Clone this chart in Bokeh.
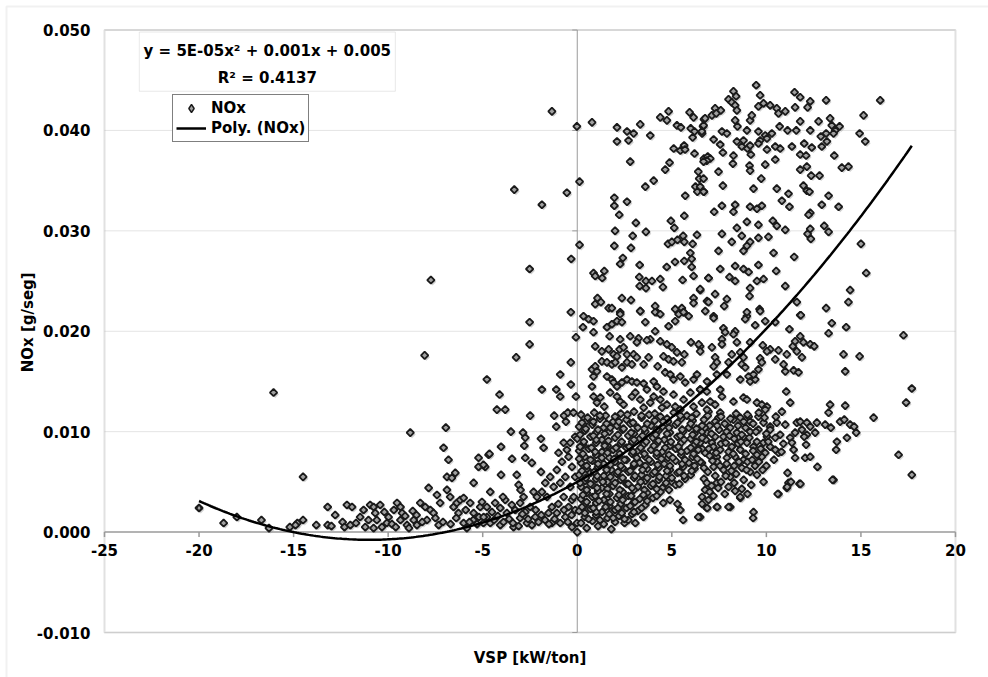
import numpy as np
from bokeh.plotting import figure
from bokeh.models import Range1d, Legend, LegendItem, Label, BoxAnnotation, ColumnDataSource
from bokeh.embed import file_html
from bokeh.resources import INLINE

# ---------------- data ----------------
x_ticks = [-25, -20, -15, -10, -5, 0, 5, 10, 15, 20]
y_ticks = [-0.010, 0.000, 0.010, 0.020, 0.030, 0.040, 0.050]

# trendline coefficients (second order polynomial)
trend_a = 4.768e-5
trend_b = 1.0487e-3
trend_c = 5.0e-3

low_left_pts = [
    (-20.0, 0.0024), (-18.7, 0.0009), (-18.0, 0.0015), (-16.7, 0.0012), (-16.3, 0.0004),
    (-16.06, 0.0139), (-15.2, 0.0005), (-14.8, 0.0009), (-14.5, 0.0012), (-14.9, 0.0007),
    (-14.5, 0.0055), (-13.8, 0.0007), (-13.2, 0.0025), (-13.2, 0.0007), (-13.0, 0.0006),
    (-12.8, 0.0017), (-12.41, 0.0010), (-12.31, 0.0005), (-12.0, 0.0007), (-12.18, 0.0027),
    (-11.91, 0.0025), (-11.48, 0.0015), (-11.21, 0.0005), (-10.95, 0.0027), (-10.77, 0.0025),
    (-10.68, 0.0019), (-10.60, 0.0012), (-10.42, 0.0027), (-10.33, 0.0005), (-10.07, 0.0009),
    (-9.98, 0.0015), (-11.04, 0.0012), (-10.77, 0.0004), (-9.7, 0.0022), (-9.53, 0.0029),
    (-9.35, 0.0025), (-9.26, 0.0019), (-9.35, 0.0012), (-9.0, 0.0007), (-8.83, 0.0099),
    (-8.65, 0.0012), (-8.48, 0.0007), (-8.30, 0.0029), (-8.04, 0.0025), (-7.86, 0.0044),
    (-7.77, 0.0022), (-7.95, 0.0012), (-7.60, 0.0019), (-7.42, 0.0037), (-7.33, 0.0007),
    (-7.25, 0.0029), (-7.07, 0.0084), (-6.95, 0.0104), (-6.81, 0.0072), (-6.89, 0.0055),
    (-6.63, 0.0054), (-6.45, 0.0059), (-6.89, 0.0042), (-6.72, 0.0035), (-6.54, 0.0025),
    (-6.37, 0.0029), (-6.19, 0.0032), (-6.01, 0.0034), (-6.28, 0.0019), (-6.01, 0.0009),
    (-5.84, 0.0004), (-5.66, 0.0029), (-5.48, 0.0049), (-5.48, 0.0019), (-5.22, 0.0074),
    (-5.22, 0.0065), (-4.87, 0.0065), (-4.78, 0.0152), (-4.69, 0.0077), (-5.13, 0.0025),
    (-4.96, 0.0009), (-4.78, 0.0015), (-7.74, 0.0251), (-8.07, 0.0176), (-5.5, 0.0012),
    (-5.3, 0.0008), (-9.8, 0.0008), (-9.1, 0.0016), (-8.7, 0.0021), (-8.9, 0.0004),
    (-8.2, 0.0010), (-8.5, 0.0017), (-7.5, 0.0014), (-7.1, 0.0010), (-6.7, 0.0008),
    (-6.4, 0.0014), (-5.9, 0.0022), (-5.7, 0.0010), (-5.2, 0.0015), (-11.7, 0.0009),
    (-11.3, 0.0022), (-10.2, 0.0020), (-9.6, 0.0005),
]

near_zero_pts = [
    (-5.04, 0.0030), (-4.78, 0.0025), (-4.51, 0.0020), (-4.34, 0.0029), (-4.07, 0.0024),
    (-3.81, 0.0032), (-3.72, 0.0019), (-3.46, 0.0027), (-3.28, 0.0022), (-3.02, 0.0029),
    (-2.75, 0.0020), (-2.49, 0.0025), (-2.22, 0.0015), (-2.05, 0.0010), (-3.37, 0.0005),
    (-4.07, 0.0007), (-4.6, 0.0009), (-4.95, 0.0015), (-2.66, 0.0009), (-3.02, 0.0014),
    (-1.60, 0.0035), (-1.34, 0.0025), (-1.08, 0.0019), (-0.90, 0.0009), (-0.63, 0.0015),
    (-0.46, 0.0025), (-0.28, 0.0032), (-0.72, 0.0035), (-1.25, 0.0045), (-1.43, 0.0055),
    (-1.08, 0.0062), (-0.81, 0.0070), (-0.55, 0.0082), (-0.63, 0.0055), (-0.37, 0.0045),
    (-0.19, 0.0035), (-0.11, 0.0022), (-0.02, 0.0009), (-0.28, 0.0005), (-1.34, 0.0009),
    (-1.87, 0.0040), (-1.69, 0.0049), (-0.90, 0.0049), (-2.13, 0.0035), (-2.31, 0.0040),
    (-2.84, 0.0035), (-1.52, 0.0019), (-0.46, 0.0075), (-0.28, 0.0065), (-0.11, 0.0055),
    (-0.11, 0.0095), (-0.37, 0.0089), (-0.72, 0.0089), (-0.99, 0.0079), (-4.4, 0.0012),
    (-4.2, 0.0016), (-3.9, 0.0010), (-3.6, 0.0013), (-3.4, 0.0009), (-3.1, 0.0006),
    (-2.9, 0.0018), (-2.6, 0.0013), (-2.4, 0.0007), (-2.2, 0.0022), (-1.9, 0.0017),
    (-1.7, 0.0012), (-1.5, 0.0008), (-1.2, 0.0013), (-1.0, 0.0028), (-0.7, 0.0022),
    (-0.5, 0.0010), (-0.3, 0.0017),
]

mid_left_pts = [
    (-2.52, 0.0209), (-2.52, 0.0187), (-3.23, 0.0174), (-4.11, 0.0137), (-4.25, 0.0122),
    (-3.81, 0.0122), (-2.49, 0.0116), (-1.87, 0.0142), (-0.90, 0.0157), (-1.11, 0.0142),
    (-0.90, 0.0135), (-0.34, 0.0169), (-0.34, 0.0147), (-0.07, 0.0135), (-0.07, 0.0194),
    (-0.34, 0.0219), (-1.22, 0.0116), (-1.11, 0.0105), (-0.7, 0.0116), (-0.5, 0.0119),
    (-0.2, 0.0119), (-0.6, 0.0110), (-3.51, 0.0100), (-2.87, 0.0099), (-2.75, 0.0094),
    (-2.80, 0.0086), (-1.92, 0.0093), (-1.78, 0.0084), (-4.03, 0.0085), (-4.64, 0.0078),
    (-4.96, 0.0067), (-3.45, 0.0073), (-2.75, 0.0074), (-2.40, 0.0069), (-4.03, 0.0057),
    (-3.2, 0.0057), (-3.1, 0.0047), (-3.0, 0.0042), (-1.92, 0.0060), (-4.60, 0.0040),
    (-3.93, 0.0035),
]

upper_mid_pts = [
    (-1.34, 0.0419), (-0.02, 0.0404), (0.78, 0.0408), (2.10, 0.0403), (2.63, 0.0399),
    (2.98, 0.0397), (2.71, 0.0390), (2.10, 0.0389), (3.33, 0.0406), (3.86, 0.0395),
    (4.39, 0.0413), (4.74, 0.0410), (4.83, 0.0419), (5.27, 0.0405), (5.48, 0.0403),
    (5.94, 0.0418), (6.15, 0.0413), (6.0, 0.0402), (6.2, 0.0399), (6.1, 0.0393),
    (6.6, 0.0397), (6.7, 0.0411), (6.65, 0.0404), (5.1, 0.0382), (5.45, 0.0380),
    (5.65, 0.0385), (5.7, 0.0381), (6.2, 0.0377), (6.7, 0.0372), (6.9, 0.0374),
    (2.80, 0.0369), (4.88, 0.0368), (4.65, 0.0361), (4.04, 0.0350), (3.6, 0.0344),
    (6.4, 0.0359), (6.45, 0.0352), (6.25, 0.0344), (6.5, 0.0342), (6.35, 0.0339),
    (6.7, 0.0339), (5.71, 0.0335), (5.66, 0.0315), (-3.33, 0.0341), (-1.87, 0.0326),
    (-0.55, 0.0338), (0.12, 0.0349), (1.96, 0.0333), (1.96, 0.0325), (2.63, 0.0329),
    (2.22, 0.0316), (3.10, 0.0308), (2.0, 0.0300), (3.63, 0.0299), (2.93, 0.0295),
    (1.96, 0.0285), (2.84, 0.0283), (0.12, 0.0286), (-0.32, 0.0272), (-2.52, 0.0262),
    (2.41, 0.0273), (2.27, 0.0267), (3.30, 0.0266), (4.95, 0.0310), (5.13, 0.0303),
    (4.8, 0.0287), (5.0, 0.0289), (5.3, 0.0291), (5.6, 0.0295), (5.66, 0.0289),
    (6.1, 0.0287), (6.33, 0.0296), (5.98, 0.0278), (6.05, 0.0272), (6.05, 0.0264),
    (5.66, 0.0270), (5.17, 0.0269), (4.73, 0.0264), (0.86, 0.0258), (0.95, 0.0255),
    (1.43, 0.0260), (1.32, 0.0253), (3.28, 0.0254), (3.63, 0.0250), (3.95, 0.0250),
    (3.30, 0.0245), (3.63, 0.0243), (4.39, 0.0252), (4.53, 0.0244), (5.57, 0.0251),
    (6.15, 0.0255), (6.94, 0.0253), (6.5, 0.0241), (1.07, 0.0233), (0.95, 0.0227),
    (1.25, 0.0229), (1.66, 0.0223), (1.83, 0.0223), (2.36, 0.0233), (2.84, 0.0231),
    (2.27, 0.0219), (3.33, 0.0220), (4.12, 0.0225), (4.21, 0.0219), (5.18, 0.0222),
    (5.53, 0.0223), (5.62, 0.0219), (6.15, 0.0233), (6.15, 0.0228), (6.86, 0.0230),
    (6.77, 0.0220),
]

upper_right_pts = [
    (9.46, 0.0445), (8.26, 0.0439), (8.40, 0.0434), (8.0, 0.0431), (8.17, 0.0428),
    (8.35, 0.0425), (8.44, 0.0420), (9.67, 0.0435), (9.85, 0.0427), (9.58, 0.0424),
    (10.2, 0.0425), (10.55, 0.0422), (10.64, 0.0417), (11.0, 0.0419), (11.49, 0.0438),
    (11.79, 0.0433), (11.52, 0.0423), (12.18, 0.0423), (12.32, 0.0429), (13.16, 0.0430),
    (16.02, 0.0430), (15.14, 0.0415), (7.29, 0.0422), (7.59, 0.0420), (7.12, 0.0415),
    (6.76, 0.0412), (6.68, 0.0405), (6.59, 0.0399), (7.35, 0.0417), (8.35, 0.0410),
    (8.47, 0.0404), (9.14, 0.0410), (8.97, 0.0400), (9.23, 0.0415), (7.65, 0.0399),
    (7.91, 0.0397), (7.21, 0.0391), (7.56, 0.0386), (7.70, 0.0378), (8.44, 0.0389),
    (8.79, 0.0390), (8.70, 0.0384), (9.0, 0.0382), (9.58, 0.0399), (9.94, 0.0395),
    (9.67, 0.0390), (10.03, 0.0392), (10.29, 0.0397), (10.70, 0.0404), (11.12, 0.0400),
    (11.58, 0.0400), (11.79, 0.0409), (12.32, 0.0400), (12.76, 0.0409), (12.88, 0.0394),
    (13.16, 0.0397), (13.37, 0.0412), (13.46, 0.0405), (13.64, 0.0400), (13.55, 0.0397),
    (13.87, 0.0404), (13.2, 0.0389), (12.93, 0.0384), (12.4, 0.0383), (12.0, 0.0387),
    (11.35, 0.0384), (10.73, 0.0382), (10.47, 0.0384), (10.03, 0.0381), (9.58, 0.0387),
    (9.14, 0.0385), (14.93, 0.0397), (15.23, 0.0389), (7.03, 0.0372), (6.85, 0.0370),
    (6.68, 0.0369), (8.26, 0.0375), (8.23, 0.0367), (9.18, 0.0376), (9.11, 0.0365),
    (9.14, 0.0360), (7.47, 0.0359), (6.68, 0.0352), (6.5, 0.0344), (6.68, 0.0339),
    (7.70, 0.0345), (9.73, 0.0352), (9.94, 0.0366), (10.47, 0.0371), (11.79, 0.0376),
    (12.1, 0.0375), (11.79, 0.0361), (12.14, 0.0364), (12.37, 0.0355), (12.81, 0.0355),
    (13.59, 0.0375), (13.99, 0.0363), (14.34, 0.0364), (11.96, 0.0345), (12.14, 0.0340),
    (12.28, 0.0339), (10.55, 0.0342), (11.17, 0.0337), (10.82, 0.0330), (11.22, 0.0324),
    (9.32, 0.0342), (13.29, 0.0335), (12.93, 0.0326), (13.82, 0.0324), (7.24, 0.0319),
    (7.65, 0.0325), (8.35, 0.0326), (8.26, 0.0319), (9.14, 0.0324), (9.50, 0.0322),
    (9.76, 0.0325), (8.97, 0.0309), (9.58, 0.0306), (10.34, 0.0310), (10.55, 0.0305),
    (11.0, 0.0301), (12.32, 0.0318), (12.23, 0.0316), (13.06, 0.0305), (13.29, 0.0299),
    (12.18, 0.0297), (12.35, 0.0292), (12.32, 0.0302), (8.44, 0.0303), (8.70, 0.0295),
    (7.65, 0.0297), (8.17, 0.0289), (9.14, 0.0289), (8.97, 0.0285), (8.79, 0.0280),
    (9.58, 0.0293), (10.11, 0.0294), (10.38, 0.0278), (11.47, 0.0274), (15.0, 0.0287),
    (15.28, 0.0258), (14.43, 0.0241), (14.34, 0.0229), (13.16, 0.0223), (11.61, 0.0229),
    (11.79, 0.0216), (9.64, 0.0222), (8.97, 0.0215), (7.47, 0.0280), (7.56, 0.0262),
    (6.94, 0.0253), (6.5, 0.0242), (7.29, 0.0237), (6.94, 0.0229), (7.91, 0.0232),
    (7.77, 0.0225), (8.35, 0.0265), (8.79, 0.0262), (9.06, 0.0259), (9.58, 0.0266),
    (9.85, 0.0252), (9.50, 0.0250), (8.35, 0.0250), (8.05, 0.0254), (9.14, 0.0243),
    (9.11, 0.0235), (10.52, 0.0260), (11.0, 0.0245), (7.21, 0.0215),
]

mid_right_pts = [
    (7.21, 0.0213), (7.73, 0.0203), (7.82, 0.0199), (8.35, 0.0200), (8.26, 0.0197),
    (8.88, 0.0212), (8.97, 0.0219), (9.41, 0.0206), (9.67, 0.0220), (9.94, 0.0210),
    (10.47, 0.0209), (11.22, 0.0202), (11.82, 0.0216), (13.46, 0.0208), (13.29, 0.0198),
    (14.22, 0.0204), (17.25, 0.0196), (6.5, 0.0185), (7.12, 0.0184), (7.65, 0.0192),
    (7.65, 0.0187), (8.44, 0.0189), (8.17, 0.0177), (8.62, 0.0179), (9.14, 0.0189),
    (9.81, 0.0186), (10.2, 0.0182), (10.03, 0.0180), (10.64, 0.0181), (11.08, 0.0177),
    (11.4, 0.0185), (11.52, 0.0190), (11.79, 0.0195), (11.61, 0.0180), (11.96, 0.0189),
    (12.32, 0.0187), (12.53, 0.0185), (11.88, 0.0174), (7.29, 0.0174), (7.38, 0.0169),
    (7.21, 0.0165), (8.0, 0.0169), (8.79, 0.0174), (8.70, 0.0167), (8.88, 0.0164),
    (9.67, 0.0173), (9.76, 0.0169), (9.58, 0.0162), (10.47, 0.0172), (10.91, 0.0167),
    (11.0, 0.0160), (11.44, 0.0161), (11.7, 0.0159), (14.08, 0.0177), (14.93, 0.0175),
    (14.17, 0.0160), (7.38, 0.0157), (7.91, 0.0157), (8.62, 0.0152), (9.06, 0.0155),
    (9.14, 0.0150), (9.41, 0.0152), (9.32, 0.0157), (6.5, 0.0142), (6.85, 0.0140),
    (7.56, 0.0142), (7.65, 0.0135), (11.05, 0.0140), (11.26, 0.0129), (17.69, 0.0143),
    (17.39, 0.0129), (15.67, 0.0114), (14.17, 0.0126), (13.37, 0.0127), (13.29, 0.0119),
]

band_right_pts = [
    (7.03, 0.0130), (7.29, 0.0127), (6.94, 0.0120), (7.56, 0.0119), (7.47, 0.0114),
    (8.26, 0.0130), (8.79, 0.0134), (8.97, 0.0132), (9.50, 0.0129), (9.76, 0.0127),
    (10.03, 0.0125), (9.94, 0.0122), (10.82, 0.0120), (9.58, 0.0115), (8.26, 0.0112),
    (8.62, 0.0114), (9.06, 0.0115), (9.14, 0.0110), (9.85, 0.0109), (10.2, 0.0105),
    (10.55, 0.0109), (11.0, 0.0107), (11.61, 0.0109), (11.79, 0.0110), (12.14, 0.0109),
    (12.32, 0.0105), (12.67, 0.0109), (13.11, 0.0107), (13.41, 0.0104), (13.9, 0.0110),
    (14.12, 0.0112), (14.43, 0.0107), (14.64, 0.0105), (14.75, 0.0099), (14.26, 0.0094),
    (13.73, 0.0090), (13.69, 0.0082), (11.88, 0.0102), (12.14, 0.0097), (12.58, 0.0099),
    (12.0, 0.0095), (11.52, 0.0099), (11.26, 0.0094), (11.35, 0.0089), (11.44, 0.0082),
    (11.52, 0.0074), (12.05, 0.0074), (12.32, 0.0075), (12.1, 0.0087), (10.73, 0.0097),
    (10.47, 0.0094), (10.03, 0.0095), (9.58, 0.0102), (9.14, 0.0100), (8.79, 0.0095),
    (8.44, 0.0099), (8.09, 0.0104), (7.73, 0.0095), (7.29, 0.0095), (6.85, 0.0099),
    (6.5, 0.0089), (7.12, 0.0089), (7.56, 0.0082), (8.17, 0.0085), (8.62, 0.0082),
    (8.97, 0.0089), (9.32, 0.0085), (9.85, 0.0089), (10.2, 0.0085), (9.94, 0.0079),
    (9.76, 0.0075), (10.64, 0.0079), (10.47, 0.0082), (8.35, 0.0075), (8.79, 0.0072),
    (7.91, 0.0074), (7.38, 0.0075), (6.76, 0.0079), (6.59, 0.0069), (7.21, 0.0065),
    (7.73, 0.0062), (8.09, 0.0055), (9.14, 0.0060), (9.50, 0.0057), (9.85, 0.0050),
    (10.64, 0.0038), (11.12, 0.0059), (11.17, 0.0049), (11.08, 0.0044), (11.75, 0.0048),
    (12.7, 0.0065), (13.55, 0.0052), (16.99, 0.0077), (17.69, 0.0057), (8.62, 0.0034),
    (9.32, 0.0020), (8.09, 0.0025), (7.38, 0.0025), (6.85, 0.0024), (6.5, 0.0015),
    (6.94, 0.0032), (7.38, 0.0049), (6.76, 0.0042), (6.7, 0.0112), (7.0, 0.0106),
    (7.3, 0.0110), (7.8, 0.0108), (8.1, 0.0113), (8.5, 0.0106), (8.9, 0.0104),
    (9.3, 0.0108), (6.6, 0.0100), (7.1, 0.0098), (7.5, 0.0102), (7.9, 0.0100),
    (8.3, 0.0093), (8.7, 0.0097), (9.1, 0.0094), (9.5, 0.0090), (6.8, 0.0092),
    (7.2, 0.0085), (7.6, 0.0088), (8.0, 0.0080), (8.5, 0.0088), (8.9, 0.0078),
    (9.3, 0.0081), (9.7, 0.0083), (6.6, 0.0083), (7.0, 0.0076), (7.4, 0.0070),
    (7.9, 0.0068), (8.3, 0.0066), (8.7, 0.0064), (9.0, 0.0070), (9.4, 0.0066),
    (6.9, 0.0060), (7.3, 0.0056), (7.6, 0.0050), (8.0, 0.0045), (8.4, 0.0058),
    (8.8, 0.0052), (6.7, 0.0053), (7.1, 0.0046), (6.6, 0.0035), (7.0, 0.0040),
    (10.0, 0.0066), (10.4, 0.0072), (10.8, 0.0080), (10.2, 0.0102), (10.9, 0.0088),
    (9.9, 0.0114), (10.5, 0.0115), (9.6, 0.0070), (5.45, 0.0022), (5.6, 0.0012),
    (6.4, 0.0015), (6.87, 0.0024), (7.4, 0.0025), (8.0, 0.0025), (8.62, 0.0035),
    (9.3, 0.0014), (10.6, 0.0038), (11.1, 0.0045), (11.3, 0.0050), (11.8, 0.0048),
    (13.5, 0.0052), (4.55, 0.0029), (3.07, 0.0009), (2.5, 0.0009), (0.0, 0.0000),
    (6.9, 0.0116), (7.6, 0.0115), (8.4, 0.0118), (9.0, 0.0117), (9.6, 0.0119),
    (6.75, 0.0104), (7.4, 0.0106), (8.05, 0.0096), (8.8, 0.0110), (9.45, 0.0100),
    (10.0, 0.0098), (6.95, 0.0083), (7.35, 0.0079), (7.85, 0.0089), (8.25, 0.0078),
    (8.65, 0.0090), (9.5, 0.0077), (10.1, 0.0090), (6.7, 0.0064), (7.15, 0.0071),
    (7.55, 0.0066), (8.15, 0.0061), (8.55, 0.0070), (8.95, 0.0062), (9.25, 0.0072),
    (9.8, 0.0062), (6.85, 0.0049), (7.45, 0.0044), (7.85, 0.0056), (8.3, 0.0049),
    (8.7, 0.0043), (9.2, 0.0047), (6.6, 0.0028), (7.2, 0.0036), (7.8, 0.0038),
    (8.35, 0.0041), (9.0, 0.0038),
]

center_upper_pts = [
    (0.33, 0.0215), (0.6, 0.0212), (0.86, 0.0210), (0.30, 0.0204), (0.86, 0.0199),
    (1.57, 0.0204), (1.83, 0.0207), (2.10, 0.0210), (2.27, 0.0217), (2.36, 0.0209),
    (3.33, 0.0220), (3.60, 0.0209), (4.12, 0.0219), (4.39, 0.0217), (4.83, 0.0205),
    (5.18, 0.0210), (5.36, 0.0217), (5.62, 0.0219), (5.89, 0.0215), (4.12, 0.0200),
    (3.86, 0.0192), (4.39, 0.0190), (4.74, 0.0187), (5.0, 0.0184), (5.27, 0.0179),
    (6.01, 0.0189), (6.42, 0.0187), (6.5, 0.0180), (1.71, 0.0195), (2.27, 0.0192),
    (2.80, 0.0195), (3.24, 0.0193), (3.15, 0.0189), (3.68, 0.0191), (0.95, 0.0185),
    (1.30, 0.0180), (1.66, 0.0182), (1.92, 0.0177), (2.10, 0.0175), (2.24, 0.0182),
    (2.45, 0.0184), (2.63, 0.0177), (2.98, 0.0177), (3.15, 0.0174), (3.51, 0.0167),
    (3.77, 0.0174), (4.25, 0.0165), (4.56, 0.0175), (4.83, 0.0172), (5.09, 0.0170),
    (5.53, 0.0169), (5.66, 0.0177), (6.15, 0.0152), (6.33, 0.0157), (0.78, 0.0162),
    (0.95, 0.0165), (1.04, 0.0160), (0.86, 0.0155), (1.30, 0.0170), (1.57, 0.0169),
    (1.83, 0.0167), (2.01, 0.0169), (2.36, 0.0164), (2.63, 0.0169), (2.89, 0.0167),
    (1.57, 0.0155), (1.83, 0.0152), (1.92, 0.0149), (2.10, 0.0145), (2.36, 0.0149),
    (2.63, 0.0152), (2.89, 0.0150), (3.15, 0.0149), (3.51, 0.0148), (3.68, 0.0142),
    (4.04, 0.0150), (4.21, 0.0145), (4.65, 0.0159), (4.92, 0.0157), (5.09, 0.0152),
    (5.45, 0.0155), (5.71, 0.0149), (4.56, 0.0140), (5.09, 0.0137), (5.62, 0.0132),
    (5.98, 0.0139), (6.5, 0.0142), (6.86, 0.0150), (0.78, 0.0145), (0.86, 0.0135),
    (1.04, 0.0129), (1.22, 0.0134), (1.43, 0.0125), (1.74, 0.0139), (2.10, 0.0135),
    (2.27, 0.0130), (2.45, 0.0127), (2.89, 0.0135), (3.07, 0.0139), (3.33, 0.0132),
    (3.51, 0.0124), (3.86, 0.0129), (4.04, 0.0135), (4.39, 0.0132), (4.48, 0.0124),
    (4.74, 0.0127), (5.18, 0.0125), (5.45, 0.0122), (6.15, 0.0125), (6.59, 0.0129),
    (6.86, 0.0122),
]

center_dense_pts = [
    (0.2, 0.0117), (0.9, 0.0119), (1.5, 0.0116), (2.3, 0.0118), (3.0, 0.0120), (3.8, 0.0117),
    (4.4, 0.0115), (5.1, 0.0119), (5.8, 0.0116), (6.3, 0.0118),
    (0.5, 0.0111), (1.2, 0.0113), (1.9, 0.0110), (2.6, 0.0112), (3.4, 0.0114), (4.1, 0.0111),
    (4.8, 0.0110), (5.5, 0.0113), (6.1, 0.0111),
    (0.1, 0.0105), (0.8, 0.0107), (1.4, 0.0104), (2.1, 0.0106), (2.8, 0.0108), (3.2, 0.0104),
    (3.9, 0.0106), (4.5, 0.0105), (5.2, 0.0107), (5.9, 0.0104), (6.6, 0.0106),
    (0.4, 0.0101), (1.0, 0.0099), (1.7, 0.0100), (2.4, 0.0102), (3.0, 0.0098), (3.6, 0.0100),
    (4.3, 0.0101), (4.9, 0.0099), (5.6, 0.0100), (6.2, 0.0098),
    (0.0, 0.0093), (0.7, 0.0095), (1.3, 0.0092), (2.0, 0.0094), (2.7, 0.0096), (3.3, 0.0093),
    (4.0, 0.0094), (4.6, 0.0092), (5.3, 0.0095), (6.0, 0.0093), (6.6, 0.0094),
    (0.3, 0.0087), (1.0, 0.0089), (1.6, 0.0086), (2.3, 0.0088), (2.9, 0.0090), (3.5, 0.0087),
    (4.2, 0.0088), (4.9, 0.0086), (5.5, 0.0089), (6.2, 0.0087),
    (0.1, 0.0081), (0.6, 0.0083), (1.3, 0.0080), (1.9, 0.0082), (2.6, 0.0084), (3.2, 0.0081),
    (3.9, 0.0082), (4.5, 0.0080), (5.2, 0.0083), (5.8, 0.0081), (6.4, 0.0082),
    (0.4, 0.0075), (1.0, 0.0077), (1.7, 0.0074), (2.2, 0.0076), (2.9, 0.0078), (3.6, 0.0075),
    (4.2, 0.0076), (4.8, 0.0074), (5.5, 0.0077), (6.1, 0.0075),
    (0.2, 0.0069), (0.8, 0.0071), (1.4, 0.0068), (2.0, 0.0070), (2.6, 0.0072), (3.3, 0.0069),
    (3.9, 0.0070), (4.6, 0.0068), (5.2, 0.0071), (5.9, 0.0069), (6.5, 0.0070),
    (0.5, 0.0063), (1.1, 0.0065), (1.8, 0.0062), (2.4, 0.0064), (3.0, 0.0066), (3.7, 0.0063),
    (4.3, 0.0064), (4.9, 0.0062), (5.6, 0.0065), (6.2, 0.0063),
    (0.1, 0.0057), (0.7, 0.0059), (1.4, 0.0056), (2.1, 0.0058), (2.7, 0.0060), (3.4, 0.0057),
    (4.0, 0.0058), (4.7, 0.0056), (5.3, 0.0059), (6.0, 0.0057),
    (0.4, 0.0051), (1.0, 0.0053), (1.6, 0.0050), (2.3, 0.0052), (3.0, 0.0054), (3.6, 0.0051),
    (4.3, 0.0052), (5.0, 0.0050), (5.7, 0.0053),
    (0.2, 0.0045), (0.8, 0.0047), (1.3, 0.0044), (1.9, 0.0046), (2.6, 0.0048), (3.2, 0.0045),
    (3.9, 0.0046), (4.5, 0.0044), (5.2, 0.0047),
    (0.5, 0.0039), (1.1, 0.0041), (1.7, 0.0038), (2.4, 0.0040), (3.0, 0.0042), (3.7, 0.0039),
    (4.4, 0.0040),
    (0.2, 0.0033), (0.8, 0.0035), (1.4, 0.0032), (2.1, 0.0034), (2.7, 0.0036), (3.3, 0.0033),
    (4.0, 0.0034), (4.9, 0.0032),
    (0.4, 0.0027), (1.0, 0.0029), (1.7, 0.0026), (2.3, 0.0028), (3.0, 0.0030), (3.6, 0.0027),
    (5.3, 0.0028),
    (0.1, 0.0021), (0.7, 0.0023), (1.3, 0.0020), (2.0, 0.0022), (2.6, 0.0024), (3.2, 0.0021),
    (4.1, 0.0022),
    (0.4, 0.0015), (1.0, 0.0017), (1.6, 0.0014), (2.2, 0.0016), (2.9, 0.0018), (3.5, 0.0015),
    (0.2, 0.0009), (0.8, 0.0011), (1.4, 0.0008), (2.0, 0.0010), (2.7, 0.0012),
    (0.5, 0.0004), (1.1, 0.0006), (1.8, 0.0003),
    (0.55, 0.0114), (1.2, 0.0116), (2.0, 0.0115), (2.65, 0.0117), (3.4, 0.0116), (4.1, 0.0118),
    (4.75, 0.0113), (5.45, 0.0116), (6.05, 0.0114),
    (0.45, 0.0103), (1.1, 0.0102), (1.75, 0.0104), (2.45, 0.0103), (3.55, 0.0103),
    (4.2, 0.0102), (4.85, 0.0104), (5.55, 0.0102), (6.3, 0.0103),
    (0.35, 0.0090), (1.0, 0.0092), (1.65, 0.0091), (2.35, 0.0090), (3.0, 0.0092),
    (3.65, 0.0090), (4.3, 0.0091), (4.95, 0.0090), (5.65, 0.0092), (6.3, 0.0090),
    (0.3, 0.0078), (0.95, 0.0080), (1.6, 0.0079), (2.25, 0.0078), (2.95, 0.0080),
    (3.55, 0.0078), (4.2, 0.0079), (4.85, 0.0077), (5.5, 0.0080), (6.15, 0.0078),
    (0.5, 0.0066), (1.1, 0.0068), (1.75, 0.0067), (2.3, 0.0066), (3.0, 0.0068),
    (3.6, 0.0066), (4.25, 0.0067), (4.9, 0.0066), (5.55, 0.0068), (6.2, 0.0066),
    (0.45, 0.0054), (1.05, 0.0056), (1.75, 0.0055), (2.4, 0.0054), (3.05, 0.0056),
    (3.7, 0.0054), (4.35, 0.0055), (5.0, 0.0054), (5.65, 0.0056),
    (0.5, 0.0042), (1.05, 0.0044), (1.6, 0.0043), (2.25, 0.0042), (2.9, 0.0044),
    (3.55, 0.0042), (4.2, 0.0043), (4.85, 0.0042),
    (0.5, 0.0030), (1.15, 0.0031), (1.75, 0.0030), (2.4, 0.0032), (3.05, 0.0030),
    (3.7, 0.0031),
    (0.4, 0.0019), (1.0, 0.0020), (1.7, 0.0018), (2.35, 0.0019), (3.0, 0.0020),
    (0.25, 0.0109), (0.85, 0.0110), (1.55, 0.0108), (2.2, 0.0110), (2.95, 0.0109),
    (3.7, 0.0108), (4.55, 0.0110), (5.3, 0.0109), (6.0, 0.0108),
    (0.15, 0.0097), (0.85, 0.0096), (1.45, 0.0098), (2.15, 0.0097), (2.85, 0.0099),
    (3.45, 0.0096), (4.15, 0.0097), (4.75, 0.0098), (5.45, 0.0096), (6.1, 0.0097),
    (0.15, 0.0085), (0.75, 0.0084), (1.45, 0.0086), (2.05, 0.0084), (2.75, 0.0085),
    (3.35, 0.0084), (4.05, 0.0086), (4.65, 0.0084), (5.35, 0.0085), (6.0, 0.0084),
    (0.1, 0.0073), (0.7, 0.0072), (1.3, 0.0074), (1.95, 0.0073), (2.5, 0.0072),
    (3.15, 0.0074), (3.8, 0.0072), (4.45, 0.0073), (5.05, 0.0074), (5.7, 0.0072),
    (6.35, 0.0073),
    (0.25, 0.0061), (0.9, 0.0060), (1.55, 0.0062), (2.15, 0.0060), (2.8, 0.0061),
    (3.45, 0.0062), (4.1, 0.0060), (4.75, 0.0061), (5.4, 0.0060), (6.05, 0.0061),
    (0.15, 0.0049), (0.7, 0.0048), (1.35, 0.0050), (2.0, 0.0049), (2.7, 0.0048),
    (3.35, 0.0050), (4.0, 0.0048), (4.7, 0.0049), (5.4, 0.0048),
    (0.3, 0.0037), (0.95, 0.0036), (1.55, 0.0038), (2.2, 0.0037), (2.85, 0.0036),
    (3.5, 0.0037), (4.2, 0.0036),
    (0.25, 0.0025), (0.85, 0.0024), (1.5, 0.0025), (2.15, 0.0024), (2.8, 0.0026),
    (3.4, 0.0024),
    (0.6, 0.0013), (1.2, 0.0012), (1.9, 0.0014), (2.5, 0.0013),
]

all_pts = (low_left_pts + near_zero_pts + mid_left_pts + upper_mid_pts + upper_right_pts
           + mid_right_pts + band_right_pts + center_upper_pts + center_dense_pts)
vsp = np.array([pt[0] for pt in all_pts])
nox = np.array([pt[1] for pt in all_pts])

# trendline over the data range
xt = np.linspace(vsp.min(), vsp.max(), 300)
yt = trend_a * xt ** 2 + trend_b * xt + trend_c

# ---------------- figure ----------------
# The frame covers the whole canvas; the visible plot area (-25..20, -0.010..0.050)
# sits at the same pixels as in the original, and all axis decorations are drawn inside.
FONT = "DejaVu Sans"
X0, X1 = x_ticks[0], x_ticks[-1]
Y0, Y1 = y_ticks[0], y_ticks[-1]

p = figure(width=988, height=677, output_backend="svg", toolbar_location=None,
           x_range=Range1d(-30.499, 21.746), y_range=Range1d(-0.01448, 0.05294),
           x_axis_location=None, y_axis_location=None, title_location=None,
           min_border=0, background_fill_color="white", border_fill_color="white")
p.outline_line_color = None
p.grid.visible = False

GRID = "#e4e4e4"
AXIS = "#9a9a9a"

# horizontal grid lines
grid_y = [t for t in y_ticks if t != 0]
p.segment(x0=[X0] * len(grid_y), y0=grid_y, x1=[X1] * len(grid_y), y1=grid_y,
          line_color=GRID, line_width=1)

# axis lines through the origin
p.segment(x0=[X0], y0=[0], x1=[X1], y1=[0], line_color=AXIS, line_width=1.5)
p.segment(x0=[0], y0=[Y0], x1=[0], y1=[Y1], line_color=AXIS, line_width=1)
# tick marks
p.ray(x=x_ticks, y=[0] * len(x_ticks), length=5, length_units="screen", angle=-np.pi / 2,
      line_color=AXIS, line_width=1.5)
p.ray(x=[0] * len(y_ticks), y=y_ticks, length=5, length_units="screen", angle=np.pi,
      line_color=AXIS, line_width=1)

# data
p.scatter(vsp + 0.09, nox - 0.00018, marker="square", angle=np.pi / 4, size=5.2,
          fill_color="#9c9c9c", fill_alpha=0.45, line_color=None)
pts_r = p.scatter(vsp, nox, marker="square", angle=np.pi / 4, size=5.2,
                  fill_color="#a0a0a0", line_color="#1a1a1a", line_width=1.8)
trend_r = p.line(xt, yt, line_color="black", line_width=2.5)

# legend sample for the diamond marker: it repeats the first observation exactly
# (hidden under that point's own marker) so the legend can show an upright diamond
legend_src = ColumnDataSource(dict(x=vsp[:1], y=nox[:1]))
legend_marker = p.scatter("x", "y", source=legend_src, marker="diamond", size=7,
                          fill_color="#a0a0a0", line_color="#1a1a1a", line_width=1.4)

# plot area border
p.add_layout(BoxAnnotation(left=X0, right=X1, bottom=Y0, top=Y1, fill_alpha=0,
                           line_color=AXIS, line_width=2))
# chart area border (light line near the top/left edge of the picture)
p.add_layout(BoxAnnotation(left=-30.18, right=30, bottom=-1, top=0.05234, fill_alpha=0,
                           line_color="#cfcfcf", line_width=2))

# tick labels
for t in x_ticks:
    p.add_layout(Label(x=t, y=0, text=str(t), text_align="center", text_baseline="top",
                       y_offset=-12, text_font=FONT, text_font_style="bold",
                       text_font_size="15px", text_color="black"))
for t in y_ticks:
    p.add_layout(Label(x=X0, y=t, text=f"{t:.3f}", text_align="right", text_baseline="middle",
                       x_offset=-14, text_font=FONT, text_font_style="bold",
                       text_font_size="15px", text_color="black"))

# axis titles
p.add_layout(Label(x=(X0 + X1) / 2, y=Y0, text="VSP [kW/ton]", text_align="center",
                   text_baseline="middle", y_offset=-25, text_font=FONT,
                   text_font_style="bold", text_font_size="15px", text_color="black"))
p.add_layout(Label(x=X0, y=(Y0 + Y1) / 2, text="NOx [g/seg]", angle=np.pi / 2,
                   text_align="center", text_baseline="middle", x_offset=-76, y_offset=9,
                   text_font=FONT, text_font_style="bold", text_font_size="15px",
                   text_color="black"))

legend = Legend(items=[LegendItem(label="NOx", renderers=[legend_marker]),
                       LegendItem(label="Poly. (NOx)", renderers=[trend_r])],
                location=(172, 535), orientation="vertical",
                border_line_color="black", border_line_width=1.5,
                background_fill_color="white", background_fill_alpha=1,
                label_text_font=FONT, label_text_font_style="bold",
                label_text_font_size="15px", label_text_color="black",
                glyph_width=30, glyph_height=20, label_height=18,
                label_standoff=5, padding=3, spacing=0, margin=0)
p.add_layout(legend)

# equation box
p.add_layout(BoxAnnotation(left=-23.16, right=-9.62, top=0.0498, bottom=0.0439,
                           fill_color="white", fill_alpha=1,
                           line_color="#b5b5b5", line_width=1))
for txt, yy in (("y = 5E-05x² + 0.001x + 0.005", 0.0479), ("R² = 0.4137", 0.0452)):
    p.add_layout(Label(x=-16.39, y=yy, text=txt, text_align="center", text_baseline="middle",
                       text_font=FONT, text_font_style="bold", text_font_size="15px",
                       text_color="black"))

open("out.html", "w").write(file_html(p, INLINE))
